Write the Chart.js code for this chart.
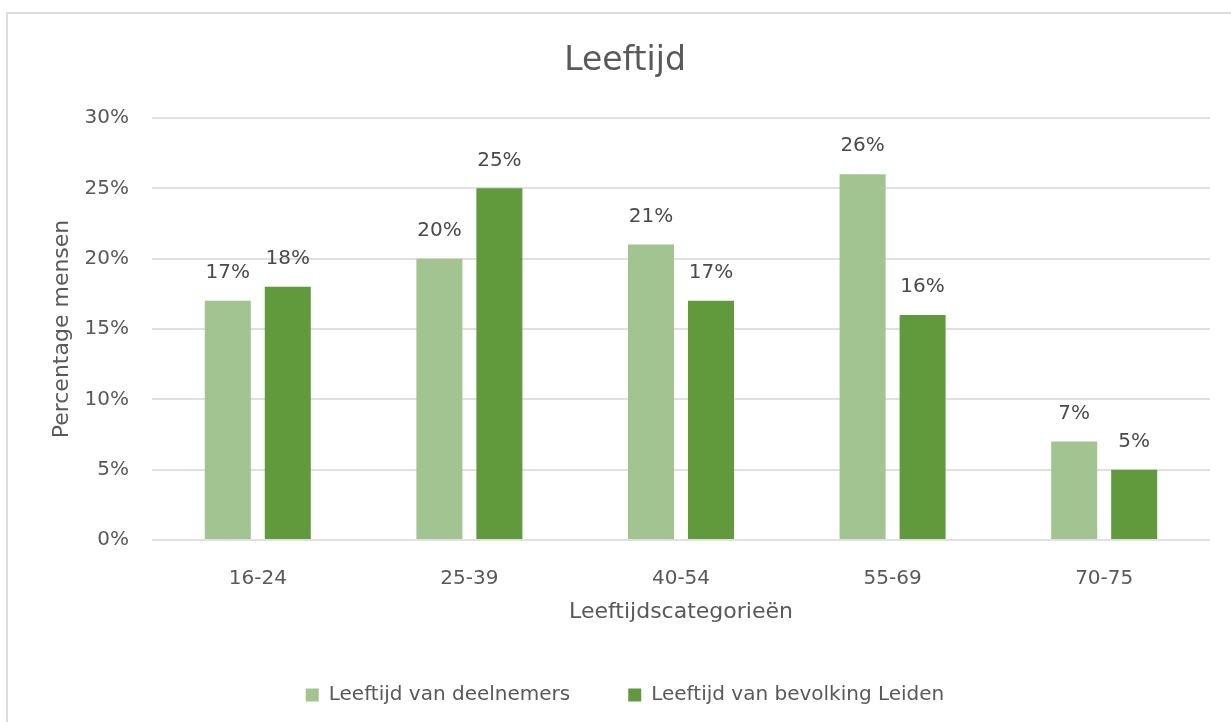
<!DOCTYPE html>
<html>
<head>
<meta charset="utf-8">
<script src="https://cdn.jsdelivr.net/npm/chart.js@4"></script>
<style>
    body { margin: 0; background: #fff; }
    .frame {
        position: absolute; left: 6px; top: 12px; right: 0; bottom: 0;
        border-left: 2px solid #dcdcdc; border-top: 2px solid #dcdcdc;
    }
    #chart { position: absolute; left: 0; top: 0; }
</style>
</head>
<body>
<div class="frame"></div>
<canvas id="chart" width="1231" height="722"></canvas>
<script>
// Data
const categories = ['16-24', '25-39', '40-54', '55-69', '70-75'];
const deelnemers = [17, 20, 21, 26, 7];
const bevolking = [18, 25, 17, 16, 5];
const yTickValues = [0, 5, 10, 15, 20, 25, 30];

const FONT = "'DejaVu Sans', sans-serif";
const TEXT = '#595959';

// Value labels above each bar
const barLabels = {
    id: 'barLabels',
    afterDatasetsDraw(chart) {
        const ctx = chart.ctx;
        ctx.save();
        ctx.font = '20px ' + FONT;
        ctx.fillStyle = '#4a4a4a';
        ctx.textAlign = 'center';
        ctx.textBaseline = 'middle';
        chart.data.datasets.forEach((ds, i) => {
            chart.getDatasetMeta(i).data.forEach((bar, j) => {
                ctx.fillText(ds.data[j] + '%', bar.x, bar.y - 28);
            });
        });
        ctx.restore();
    }
};

new Chart(document.getElementById('chart'), {
    type: 'bar',
    data: {
        labels: categories,
        datasets: [{
            label: 'Leeftijd van deelnemers',
            data: deelnemers,
            backgroundColor: '#a2c490',
            borderWidth: 0,
            categoryPercentage: 0.567,
            barPercentage: 0.767
        }, {
            label: 'Leeftijd van bevolking Leiden',
            data: bevolking,
            backgroundColor: '#619a3d',
            borderWidth: 0,
            categoryPercentage: 0.567,
            barPercentage: 0.767
        }]
    },
    options: {
        responsive: false,
        animation: false,
        layout: { padding: { left: 40, right: 21, top: 0, bottom: 7 } },
        plugins: {
            title: {
                display: true,
                text: 'Leeftijd',
                color: TEXT,
                font: { family: FONT, size: 33, weight: 'normal' },
                padding: { top: 42, bottom: 36.4 }
            },
            legend: {
                position: 'bottom',
                labels: {
                    color: TEXT,
                    font: { family: FONT, size: 20 },
                    boxWidth: 13,
                    boxHeight: 13,
                    padding: 58
                }
            },
            tooltip: { enabled: false }
        },
        scales: {
            x: {
                grid: { display: false },
                border: { display: false },
                ticks: { color: TEXT, font: { family: FONT, size: 20 }, padding: 19 },
                title: {
                    display: true,
                    text: 'Leeftijdscategorieën',
                    color: TEXT,
                    font: { family: FONT, size: 22 },
                    padding: { top: 16, bottom: 2 }
                },
                afterFit(axis) { axis.height = 87; }
            },
            y: {
                min: 0,
                max: 30,
                grid: { color: '#e0e0e0', lineWidth: 2, drawTicks: false },
                border: { display: false },
                ticks: {
                    color: TEXT,
                    font: { family: FONT, size: 20 },
                    padding: 23,
                    callback: v => v + '%'
                },
                afterBuildTicks(axis) {
                    axis.ticks = yTickValues.map(v => ({ value: v }));
                },
                title: {
                    display: true,
                    text: 'Percentage mensen',
                    color: TEXT,
                    font: { family: FONT, size: 22 },
                    padding: { top: 9, bottom: 0 }
                },
                afterFit(axis) { axis.width = 112; }
            }
        }
    },
    plugins: [barLabels]
});
</script>
</body>
</html>
